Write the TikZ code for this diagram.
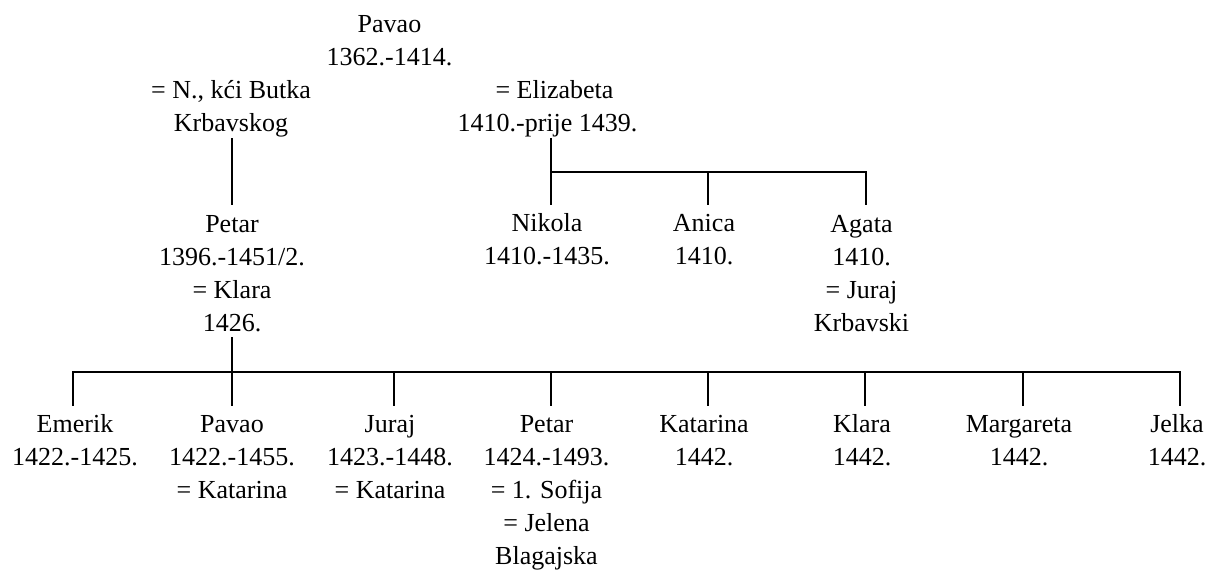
\documentclass[tikz,border=0pt]{standalone}
\usepackage{fontspec}
\setmainfont{Liberation Serif}
\newcommand\tst{\rule{0pt}{27pt}}
\newcommand\bst{\rule[-6.3pt]{0pt}{6.3pt}}
\begin{document}
\begin{tikzpicture}[x=1pt,y=-1pt,
  person/.style={anchor=north, align=center, inner sep=0pt, outer sep=0pt,
                 font=\fontsize{26}{33}\selectfont},
  link/.style={line width=2pt, line join=miter}]
\useasboundingbox (0,0) rectangle (1208,572);

% generation 1
\node[person] (pavao) at (389.5,5.7) {\tst Pavao\\1362.-1414.\bst};
\node[person] (nspouse) at (231,72) {\tst = N., kći Butka\\Krbavskog\bst};
\node[person] (espouse) at (547.5,72) {\tst\hspace*{14pt}= Elizabeta\\1410.-prije 1439.\bst};

% generation 2
\node[person] (petar) at (232,205) {\tst Petar\\1396.-1451/2.\\= Klara\\1426.\bst};
\node[person] (nikola) at (547,205) {\tst Nikola\\1410.-1435.\bst};
\node[person] (anica) at (704,205) {\tst Anica\\1410.\bst};
\node[person] (agata) at (861.5,205) {\tst Agata\\1410.\\= Juraj\\Krbavski\bst};

% generation 3
\node[person] (emerik) at (75,405.5) {\tst Emerik\\1422.-1425.\bst};
\node[person] (pavaob) at (232,405.5) {\tst Pavao\\1422.-1455.\\= Katarina\bst};
\node[person] (juraj) at (390,405.5) {\tst Juraj\\1423.-1448.\\= Katarina\bst};
\node[person] (petarb) at (546.5,405.5) {\tst Petar\\1424.-1493.\\= 1. Sofija\\= Jelena\\Blagajska\bst};
\node[person] (katarina) at (704,405.5) {\tst Katarina\\1442.\bst};
\node[person] (klara) at (862,405.5) {\tst Klara\\1442.\bst};
\node[person] (margareta) at (1019,405.5) {\tst Margareta\\1442.\bst};
\node[person] (jelka) at (1177,405.5) {\tst Jelka\\1442.\bst};

% bus coordinates
\coordinate (mL) at (551,172);
\coordinate (mM) at (708,172);
\coordinate (mR) at (866,172);
\coordinate (bL) at (73,372);
\coordinate (b2) at (232,372);
\coordinate (b3) at (394,372);
\coordinate (b4) at (551,372);
\coordinate (b5) at (708,372);
\coordinate (b6) at (865,372);
\coordinate (b7) at (1023,372);
\coordinate (bR) at (1180,372);

% connectors
\draw[link] (petar.north |- nspouse.south) -- (petar.north);
\draw[link] (mL |- espouse.south) -- (mL |- nikola.north);
\draw[link] (mL) -- (mR) -- (mR |- agata.north);
\draw[link] (mM) -- (mM |- anica.north);

\draw[link] (b2 |- petar.south) -- (b2 |- pavaob.north);
\draw[link] (bL |- emerik.north) -- (bL) -- (bR) -- (bR |- jelka.north);
\draw[link] (b3) -- (b3 |- juraj.north);
\draw[link] (b4) -- (b4 |- petarb.north);
\draw[link] (b5) -- (b5 |- katarina.north);
\draw[link] (b6) -- (b6 |- klara.north);
\draw[link] (b7) -- (b7 |- margareta.north);
\end{tikzpicture}
\end{document}
